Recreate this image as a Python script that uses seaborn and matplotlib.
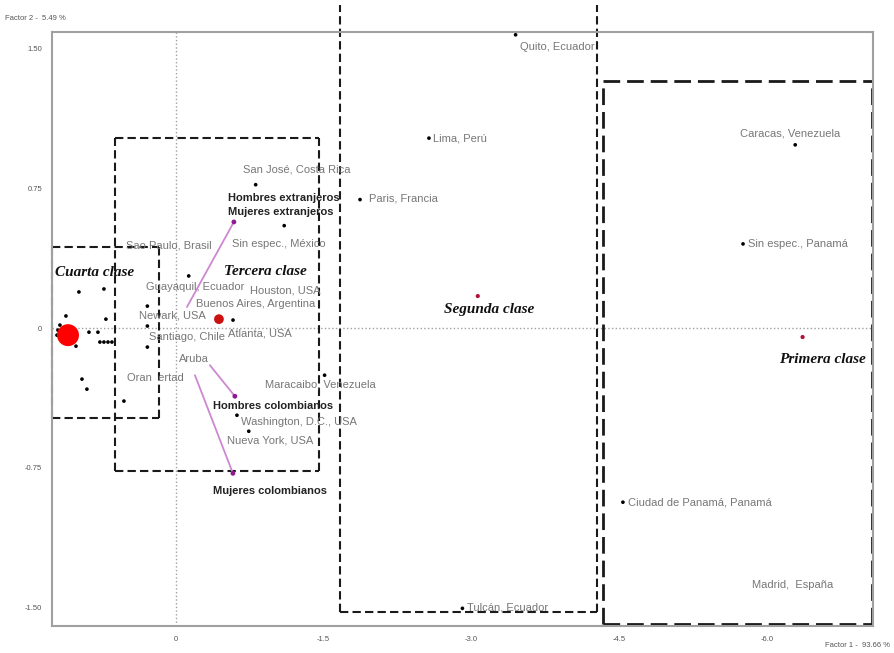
"""
Correspondence analysis map: birthplaces, sex and social class
(Factor 1 vs Factor 2), with dashed boxes marking the four classes.
"""

import matplotlib
matplotlib.use("Agg")
import matplotlib.pyplot as plt
import pandas as pd
import seaborn as sns

# black dots (category coordinates)
dot_x = [-3.45, -2.57, -1.87, -0.81, -1.10, -0.13, -0.58, 0.29, 0.29, 0.29,
         -1.51, -0.62, -0.74, -6.29, -5.76, -4.54, -2.91,
         0.985, 0.731, 0.711, 1.117, 0.883, 0.792, 0.772, 0.731, 0.69, 0.65,
         1.015, 0.954, 0.904, 0.528, 1.198, 1.178, 1.208, 1.157]
dot_y = [1.575, 1.02, 0.69, 0.77, 0.55, 0.28, 0.043, 0.118, 0.011, -0.102,
         -0.253, -0.468, -0.554, 0.984, 0.452, -0.935, -1.505,
         0.194, 0.21, 0.048, 0.065, -0.022, -0.022, -0.075, -0.075, -0.075, -0.075,
         -0.097, -0.274, -0.328, -0.392, -0.011, 0.016, -0.038, -0.054]

# class centroids
class_names = ["Cuarta clase", "Tercera clase", "Segunda clase", "Primera clase"]
class_x = [1.096, -0.437, -3.066, -6.365]
class_y = [-0.038, 0.048, 0.172, -0.048]
class_weight = [4, 1.5, 1, 1]

# sex categories and the ends of their leader lines
sex_x = [-0.589, -0.599, -0.579]
sex_y = [0.57, -0.366, -0.78]
sex_end_x = [-0.112, -0.345, -0.193]
sex_end_y = [0.113, -0.199, -0.253]

# class regions: (left, right, bottom, top)
box_cuarta = [1.26, 0.173, -0.484, 0.435]
box_tercera = [0.619, -1.452, -0.769, 1.02]
box_segunda = [-1.665, -4.28, -1.527, 1.737]
box_primera = [-4.335, -7.066, -1.59, 1.328]

# point labels (left edge, centre)
labels = ["Quito, Ecuador", "Lima, Perú", "Paris, Francia", "San José, Costa Rica",
          "Sin espec., México", "Sao Paulo, Brasil", "Guayaquil, Ecuador",
          "Houston, USA", "Buenos Aires, Argentina", "Newark, USA", "Atlanta, USA",
          "Santiago, Chile", "Aruba", "Oran  ertad", "Maracaibo, Venezuela",
          "Washington, D.C., USA", "Nueva York, USA", "Caracas, Venezuela",
          "Sin espec., Panamá", "Ciudad de Panamá, Panamá", "Madrid,  España",
          "Tulcán, Ecuador"]
label_x = [-3.49, -2.61, -1.96, -0.68, -0.569, 0.508, 0.305, -0.751, -0.203,
           0.376, -0.528, 0.274, -0.03, 0.497, -0.904, -0.66, -0.518, -5.726,
           -5.807, -4.589, -5.848, -2.954]
label_y = [1.51, 1.016, 0.694, 0.85, 0.452, 0.441, 0.22, 0.204, 0.129, 0.065,
           -0.027, -0.048, -0.167, -0.269, -0.301, -0.505, -0.602, 1.043,
           0.452, -0.935, -1.382, -1.5]

sex_labels = ["Hombres extranjeros", "Mujeres extranjeros",
              "Hombres colombianos", "Mujeres colombianos"]
sex_label_x = [-0.528, -0.528, -0.376, -0.376]
sex_label_y = [0.699, 0.624, -0.419, -0.876]

class_label_x = [1.228, -0.487, -2.72, -6.13]
class_label_y = [0.301, 0.306, 0.102, -0.167]

x_ticks = [0, -1.5, -3.0, -4.5, -6.0]
x_tick_labels = ["0", "-1.5", "-3.0", "-4.5", "-6.0"]
y_ticks = [1.5, 0.75, 0, -0.75, -1.5]
y_tick_labels = ["1.50", "0.75", "0", "-0.75", "-1.50"]

GRAY = "#8c8c8c"
TEXT_GRAY = "#777777"


def draw_box(ax, box, lw=1.5, dashes=(4, 2), edges="lrbt"):
    left, right, bottom, top = box
    segs = {"l": ([left, left], [bottom, top]),
            "r": ([right, right], [bottom, top]),
            "b": ([left, right], [bottom, bottom]),
            "t": ([left, right], [top, top])}
    for e in edges:
        xs, ys = segs[e]
        ax.plot(xs, ys, color="#1a1a1a", lw=lw, dashes=dashes, clip_on=False,
                zorder=1)


def main():
    sns.set_style("white")
    plt.rcParams["font.family"] = ["Liberation Sans", "DejaVu Sans"]

    fig = plt.figure(figsize=(8.94, 6.53), dpi=100)
    ax = fig.add_axes([0.058, 0.0413, 0.9185, 0.9097])

    ax.axhline(0, color="#a0a0a0", lw=1, ls=":", zorder=0)
    ax.axvline(0, color="#a0a0a0", lw=1, ls=":", zorder=0)

    draw_box(ax, box_cuarta)
    draw_box(ax, box_tercera)
    draw_box(ax, box_segunda, edges="lrb")
    draw_box(ax, box_primera, lw=2, dashes=(6, 2.5))

    dots = pd.DataFrame({"x": dot_x, "y": dot_y})
    sns.scatterplot(data=dots, x="x", y="y", ax=ax, color="black", s=7,
                    edgecolor="none", zorder=3)

    for x0, y0, x1, y1 in zip(sex_x, sex_y, sex_end_x, sex_end_y):
        ax.plot([x0, x1], [y0, y1], color="#cc88d0", lw=1.3, zorder=2)
    sex = pd.DataFrame({"x": sex_x, "y": sex_y})
    sns.scatterplot(data=sex, x="x", y="y", ax=ax, color="#8e1a8e", s=12,
                    edgecolor="none", zorder=3)

    classes = pd.DataFrame({"x": class_x, "y": class_y, "w": class_weight,
                            "name": class_names})
    sns.scatterplot(data=classes, x="x", y="y", size="w", sizes=(9, 250),
                    hue="name", palette=["#ff0000", "#cc1010", "#b0103a", "#b0103a"],
                    edgecolor="none", legend=False, ax=ax, zorder=4)

    for t, x, y in zip(labels, label_x, label_y):
        ax.text(x, y, t, fontsize=8, color=TEXT_GRAY, ha="left", va="center",
                zorder=5)
    for t, x, y in zip(sex_labels, sex_label_x, sex_label_y):
        ax.text(x, y, t, fontsize=8, color="#222222", fontweight="bold",
                ha="left", va="center", zorder=5)
    for t, x, y in zip(class_names, class_label_x, class_label_y):
        ax.text(x, y, t, fontsize=11, color="#111111", fontweight="bold",
                fontstyle="italic", family=["Liberation Serif", "DejaVu Serif"],
                ha="left", va="center", zorder=5)

    ax.set_xlim(1.26, -7.08)
    ax.set_ylim(-1.60, 1.59)
    ax.set_xticks(x_ticks)
    ax.set_xticklabels(x_tick_labels)
    ax.set_yticks(y_ticks)
    ax.set_yticklabels(y_tick_labels)
    ax.tick_params(direction="inout", length=4, width=1, color=GRAY,
                   labelsize=5.5, labelcolor="#555555", pad=5)
    ax.set_xlabel("")
    ax.set_ylabel("")
    for side in ["left", "right", "top", "bottom"]:
        ax.spines[side].set_color("#a0a0a0")
        ax.spines[side].set_linewidth(1.5)

    fig.text(0.006, 0.972, "Factor 2 -  5.49 %", fontsize=5.5, color="#555555",
             ha="left", va="center")
    fig.text(0.9955, 0.012, "Factor 1 -  93.66 %", fontsize=5.5, color="#555555",
             ha="right", va="center")

    fig.savefig("out.png", dpi=100)
    plt.close(fig)


if __name__ == "__main__":
    main()
